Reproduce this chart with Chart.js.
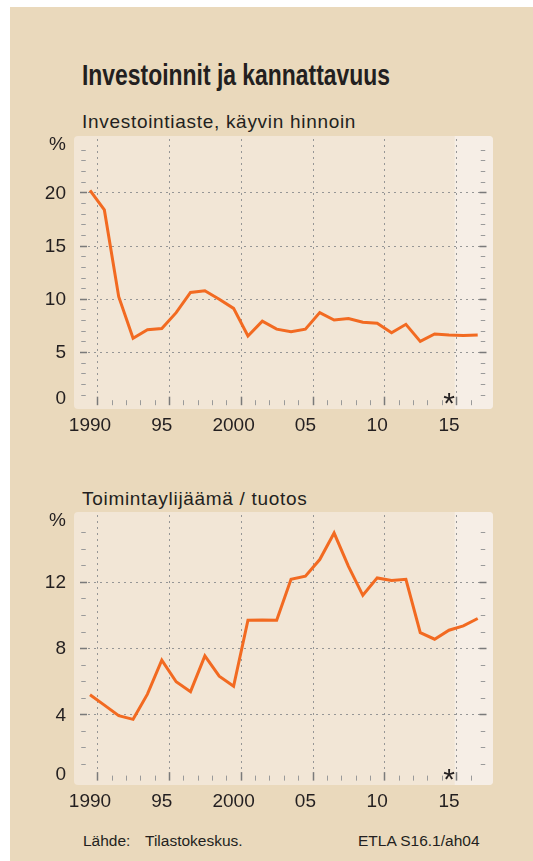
<!DOCTYPE html>
<html lang="fi">
<head>
<meta charset="utf-8">
<title>Investoinnit ja kannattavuus</title>
<script src="https://cdn.jsdelivr.net/npm/chart.js@4.4.1/dist/chart.umd.min.js"></script>
<style>
  body { margin: 0; width: 533px; height: 861px; position: relative; overflow: hidden; background: #fff;
         font-family: "Liberation Sans", Arial, sans-serif; color: #231f20; }
  #bg { position: absolute; left: 10px; top: 7px; right: 0; bottom: 0; background: #EAD9BC; }
  canvas { position: absolute; left: 0; top: 0; }
  .txt { position: absolute; white-space: nowrap; }
  #title { left: 82px; top: 61px; font-family: "Liberation Sans Narrow", "Liberation Sans", sans-serif;
           font-weight: bold; font-size: 29px; line-height: 29px; transform-origin: 0 0; }
  .sub { left: 82px; font-size: 19px; line-height: 19px; letter-spacing: 0.7px; }
  #sub1 { top: 112px; }
  #sub2 { top: 489px; }
  .foot { top: 833px; font-size: 15.5px; line-height: 15px; }
</style>
</head>
<body>
<div id="bg"></div>
<div id="title" class="txt">Investoinnit ja kannattavuus</div>
<div id="sub1" class="txt sub">Investointiaste, käyvin hinnoin</div>
<div id="sub2" class="txt sub">Toimintaylijäämä / tuotos</div>
<div class="txt foot" style="left:83px">Lähde:</div>
<div class="txt foot" style="left:145px">Tilastokeskus.</div>
<div class="txt foot" style="left:358px">ETLA S16.1/ah04</div>
<canvas id="chartInv" width="533" height="861"></canvas>
<canvas id="chartProf" width="533" height="861"></canvas>
<script>
// Vuodet ja sarjat
const years = [1990, 1991, 1992, 1993, 1994, 1995, 1996, 1997, 1998, 1999,
               2000, 2001, 2002, 2003, 2004, 2005, 2006, 2007, 2008, 2009,
               2010, 2011, 2012, 2013, 2014, 2015, 2016, 2017];
const investointiaste = [20.2, 18.35, 10.2, 6.3, 7.1, 7.2, 8.7, 10.6, 10.75, 9.95,
                         9.1, 6.5, 7.9, 7.15, 6.9, 7.15, 8.7, 8.0, 8.15, 7.8,
                         7.7, 6.8, 7.6, 6.0, 6.7, 6.6, 6.55, 6.6];
const toimintaylijaama = [5.18, 4.56, 3.92, 3.7, 5.22, 7.27, 5.97, 5.37, 7.53, 6.31,
                          5.7, 9.69, 9.7, 9.69, 12.16, 12.34, 13.35, 14.95, 12.94, 11.19,
                          12.24, 12.08, 12.16, 8.94, 8.54, 9.08, 9.34, 9.79];

// Akselien tekstit
const xTickYears = [1990, 1995, 2000, 2005, 2010, 2015];
const xTickLabels = ['1990', '95', '2000', '05', '10', '15'];
const yTicksInv = [20, 15, 10, 5, 0];
const yTicksProf = [12, 8, 4, 0];
const forecastYear = 2015;

const lineColor = '#F26A21';
const textColor = '#231f20';
const gridColor = '#969696';

// otsikko kapeaksi (kapeaa kirjasinta ei ole aina saatavilla)
const titleEl = document.getElementById('title');
titleEl.style.transform = `scaleX(${308 / titleEl.offsetWidth})`;

// Paneeli, ennustealue, pisteviivaruudukko, asteikkoviivat ja tekstit
const panelPlugin = {
    id: 'panel',
    beforeDatasetsDraw(chart, args, opts) {
        const { ctx, chartArea: a, scales: { x, y } } = chart;
        const y0 = y.getPixelForValue(0);
        ctx.save();
        ctx.fillStyle = '#F2E6D6';
        ctx.beginPath();
        ctx.roundRect(a.left, a.top, a.right - a.left, a.bottom - a.top, 4);
        ctx.fill();
        const xs = x.getPixelForValue(forecastYear + 0.4);
        ctx.fillStyle = '#F6EEE6';
        ctx.beginPath();
        ctx.roundRect(xs, a.top, a.right - xs, a.bottom - a.top, [0, 4, 4, 0]);
        ctx.fill();

        // pisteviivat
        ctx.strokeStyle = gridColor;
        ctx.lineWidth = 1;
        ctx.setLineDash([2, 4]);
        opts.yGrid.forEach(v => {
            const py = Math.round(y.getPixelForValue(v)) + 0.5;
            ctx.beginPath(); ctx.moveTo(a.left + 8, py); ctx.lineTo(a.right - 8, py); ctx.stroke();
        });
        xTickYears.forEach(yr => {
            const px = Math.round(x.getPixelForValue(yr + 0.5)) + 0.5;
            ctx.beginPath(); ctx.moveTo(px, a.top + 3); ctx.lineTo(px, y0 - 8); ctx.stroke();
        });
        ctx.setLineDash([]);

        // pystyasteikon väliviivat molemmin puolin
        for (let v = 1; v <= opts.minorMax; v++) {
            const major = v % opts.step === 0;
            const py = Math.round(y.getPixelForValue(v)) + 0.5;
            ctx.strokeStyle = major ? '#7a7a7a' : '#9a9a9a';
            ctx.lineWidth = major ? 1.5 : 1;
            const l = major ? 7 : 4.5;
            const lx = a.left + 10, rx = a.right - 10;
            ctx.beginPath();
            ctx.moveTo(lx - l / 2 - 0.5, py); ctx.lineTo(lx + l / 2 - 0.5, py);
            ctx.moveTo(rx - l / 2, py); ctx.lineTo(rx + l / 2, py);
            ctx.stroke();
        }

        // vaaka-asteikon väliviivat
        for (let yr = years[0]; yr < years[years.length - 1]; yr++) {
            const major = xTickYears.includes(yr);
            const px = Math.round(x.getPixelForValue(yr + 0.5)) + 0.5;
            ctx.strokeStyle = major ? '#7a7a7a' : '#9a9a9a';
            ctx.lineWidth = major ? 1.5 : 1;
            ctx.beginPath();
            ctx.moveTo(px, y0); ctx.lineTo(px, y0 - (major ? 8.5 : 5));
            ctx.stroke();
        }

        // tekstit
        ctx.fillStyle = textColor;
        ctx.font = '19px "Liberation Sans", Arial, sans-serif';
        ctx.textAlign = 'right';
        ctx.textBaseline = 'middle';
        ctx.fillText('%', 66, a.top + 9);
        opts.yLabels.forEach(v => {
            const py = y.getPixelForValue(v) - (v === 0 ? 7 : 0);
            ctx.fillText(String(v), 66, py + 1);
        });
        ctx.textAlign = 'center';
        xTickYears.forEach((yr, i) => {
            ctx.fillText(xTickLabels[i], x.getPixelForValue(yr), y0 + 21);
        });
        ctx.restore();
    },
    afterDatasetsDraw(chart) {
        const { ctx, scales: { x, y } } = chart;
        ctx.save();
        ctx.fillStyle = textColor;
        ctx.font = '30px "Liberation Sans", Arial, sans-serif';
        ctx.textAlign = 'center';
        ctx.textBaseline = 'alphabetic';
        ctx.fillText('*', x.getPixelForValue(forecastYear), y.getPixelForValue(0) + 8);
        ctx.restore();
    }
};

function makeChart(id, data, pad, yMin, yMax, panel) {
    return new Chart(document.getElementById(id), {
        type: 'line',
        data: {
            labels: years,
            datasets: [{
                data: years.map((yr, i) => ({ x: yr, y: data[i] })),
                borderColor: lineColor,
                borderWidth: 3,
                borderJoinStyle: 'miter',
                pointRadius: 0,
                tension: 0,
                fill: false
            }]
        },
        options: {
            responsive: false,
            animation: false,
            events: [],
            layout: { padding: pad },
            plugins: { legend: { display: false }, tooltip: { enabled: false }, panel },
            scales: {
                x: { type: 'linear', display: false, min: 1988.886, max: 2018.065 },
                y: { type: 'linear', display: false, min: yMin, max: yMax }
            }
        },
        plugins: [panelPlugin]
    });
}

makeChart('chartInv', investointiaste,
    { left: 74, right: 40, top: 136, bottom: 452 }, -0.357, 25.3,
    { yGrid: [5, 10, 15, 20], yLabels: yTicksInv, minorMax: 24, step: 5 });

makeChart('chartProf', toimintaylijaama,
    { left: 74, right: 40, top: 512, bottom: 76 }, -0.265, 16.22,
    { yGrid: [4, 8, 12], yLabels: yTicksProf, minorMax: 15, step: 4 });
</script>
</body>
</html>
